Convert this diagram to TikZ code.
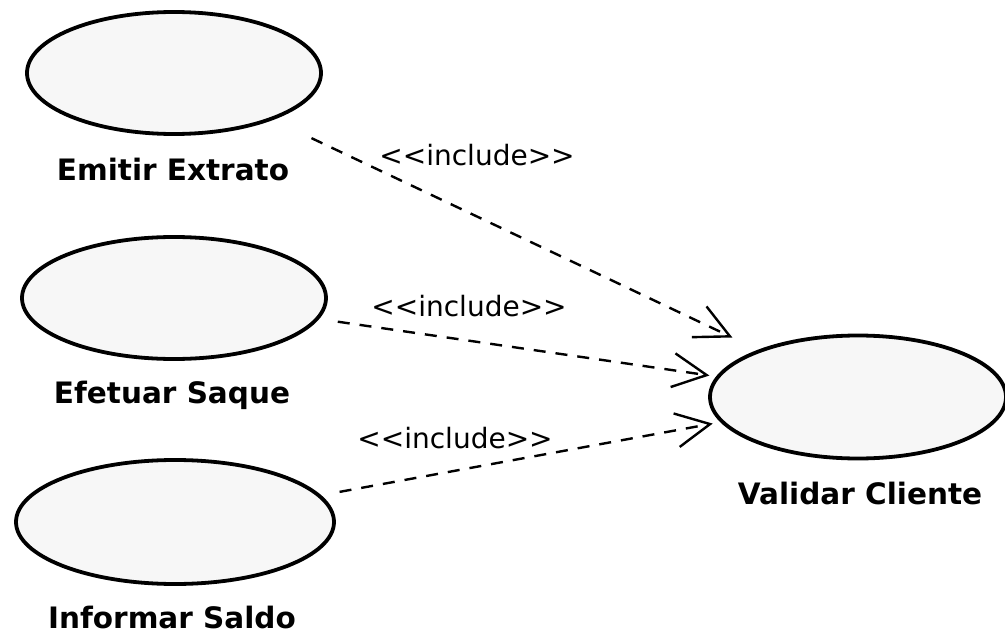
\documentclass[tikz,border=0pt]{standalone}
\usepackage{fontspec}
\setmainfont{DejaVu Sans}
\usetikzlibrary{arrows.meta,shapes.geometric}
\definecolor{ucfill}{RGB}{247,247,247}
\begin{document}
\begin{tikzpicture}[x=1pt,y=-1pt,
  usecase/.style={ellipse,draw=black,line width=3.8pt,fill=ucfill,inner sep=0pt,outer sep=0pt},
  uclabel/.style={font=\bfseries\fontsize{29.5}{32}\selectfont,inner sep=0pt},
  stereo/.style={font=\fontsize{28}{32}\selectfont,inner sep=0pt},
  incl/.style={line width=2.4pt,dash pattern=on 12pt off 10pt,
    -{Straight Barb[length=34pt,width=34pt,line width=2.4pt]}}]
\useasboundingbox (0,0) rectangle (1005,634);

% use cases
\node[usecase,minimum width=294pt,minimum height=122pt] (e1) at (174,73) {};
\node[usecase,minimum width=304pt,minimum height=122pt] (e2) at (174,298) {};
\node[usecase,minimum width=318pt,minimum height=124pt] (e3) at (175,522) {};
\node[usecase,minimum width=296pt,minimum height=123pt] (vc) at (858,397) {};

% use case names
\node[uclabel] (l1) at (173,170) {Emitir Extrato};
\node[uclabel] (l2) at (172,395) {Efetuar Saque};
\node[uclabel] (l3) at (172,617) {Informar Saldo};
\node[uclabel] (l4) at (860,493) {Validar Cliente};

% include dependencies
\draw[incl,shorten <=45pt,shorten >=31pt] (e1) -- (vc);
\draw[incl,shorten <=21pt,shorten >=9pt] (e2) -- (vc);
\draw[incl,shorten <=21pt,shorten >=10pt] (e3) -- (vc);

% stereotypes (braces keep the angle brackets from becoming guillemets)
\node[stereo] (s1) at (477,155) {<{}<include>{}>};
\node[stereo] (s2) at (469,306) {<{}<include>{}>};
\node[stereo] (s3) at (455,438) {<{}<include>{}>};
\end{tikzpicture}
\end{document}
